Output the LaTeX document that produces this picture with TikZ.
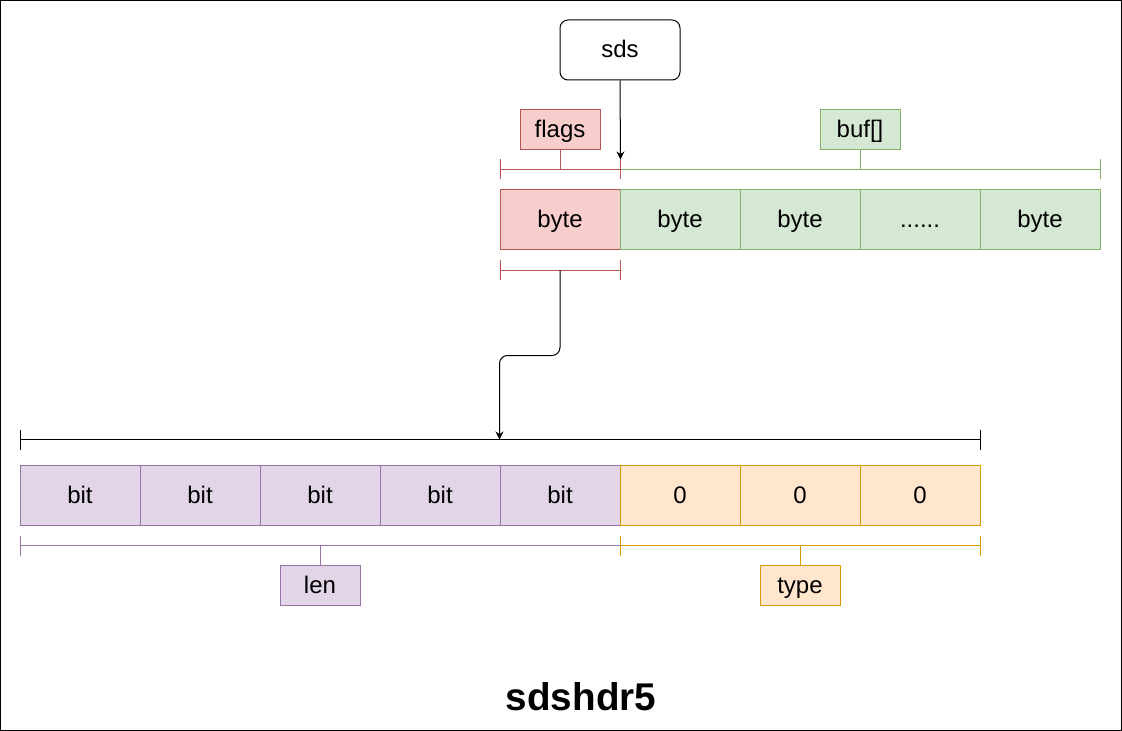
\documentclass[tikz,border=0pt]{standalone}
\usepackage{fontspec}
\setmainfont{Liberation Sans}
\usetikzlibrary{positioning,arrows.meta}

\definecolor{flagsfill}{HTML}{F8CECC}
\definecolor{flagsline}{HTML}{B85450}
\definecolor{buffill}{HTML}{D5E8D4}
\definecolor{bufline}{HTML}{82B366}
\definecolor{lenfill}{HTML}{E1D5E7}
\definecolor{lenline}{HTML}{9673A6}
\definecolor{typefill}{HTML}{FFE6CC}
\definecolor{typeline}{HTML}{D79B00}

\tikzstyle{cell} = [rectangle, minimum width=90pt, minimum height=45pt, text centered, text height=13.5pt, text depth=1.5pt, font=\fontsize{18}{22}\selectfont]
\tikzstyle{tag} = [rectangle, minimum width=60pt, minimum height=30pt, text centered, text height=13.5pt, text depth=1.5pt, font=\fontsize{18}{22}\selectfont]
\tikzstyle{flagcell} = [cell, draw=flagsline, fill=flagsfill]
\tikzstyle{bufcell} = [cell, draw=bufline, fill=buffill]
\tikzstyle{lencell} = [cell, draw=lenline, fill=lenfill]
\tikzstyle{typecell} = [cell, draw=typeline, fill=typefill]
\tikzstyle{span} = [{Bar[width=15pt]}-{Bar[width=15pt]}]
\tikzstyle{pointer} = [-{Stealth[length=6pt, width=6pt]}]

\begin{document}
\begin{tikzpicture}[x=0.75pt, y=-0.75pt, line width=0.75pt, node distance=90pt]
    %\draw[step=20,gray,very thin] (0,0) grid (1122,731);
    \useasboundingbox (0,0) rectangle (1122,731);
    \draw (0.5,0.5) rectangle (1121.5,730.5);

    \node (sds) at (620,50) [cell, draw, rounded corners=6pt] {sds};
    \node (flags) at (560,130) [tag, draw=flagsline, fill=flagsfill] {flags};
    \node (buf) at (860,130) [tag, draw=bufline, fill=buffill] {buf[]};

    \node (byte0) at (560,220) [flagcell] {byte};
    \node (byte1) [bufcell, right of=byte0] {byte};
    \node (byte2) [bufcell, right of=byte1] {byte};
    \node (byte3) [bufcell, right of=byte2] {......};
    \node (byte4) [bufcell, right of=byte3] {byte};

    \coordinate (flagsbar) at ([yshift=15pt]byte0.north);
    \coordinate (bufbar) at ([yshift=15pt]byte1.north west -| buf);
    \coordinate (bufhead) at ([yshift=22.5pt]byte0.north east);
    \coordinate (flagsout) at ([yshift=-15pt]byte0.south);

    \draw [span, draw=bufline] ([yshift=15pt]byte1.north west) -- ([yshift=15pt]byte4.north east);
    \draw [span, draw=flagsline] ([yshift=15pt]byte0.north west) -- ([yshift=15pt]byte0.north east);
    \draw [span, draw=flagsline] ([yshift=-15pt]byte0.south west) -- ([yshift=-15pt]byte0.south east);
    \draw [draw=flagsline] (flags.south) -- (flagsbar);
    \draw [draw=bufline] (buf.south) -- (bufbar);
    \draw [pointer] (sds.south) -- (bufhead);

    \node (bit0) at (80,495) [lencell] {bit};
    \node (bit1) [lencell, right of=bit0] {bit};
    \node (bit2) [lencell, right of=bit1] {bit};
    \node (bit3) [lencell, right of=bit2] {bit};
    \node (bit4) [lencell, right of=bit3] {bit};
    \node (type0) [typecell, right of=bit4] {0};
    \node (type1) [typecell, right of=type0] {0};
    \node (type2) [typecell, right of=type1] {0};

    \node (len) at (320,585) [tag, draw=lenline, fill=lenfill] {len};
    \node (type) at (800,585) [tag, draw=typeline, fill=typefill] {type};

    \coordinate (bitsin) at ([yshift=18.75pt]bit4.north west);
    \coordinate (lenbar) at ([yshift=-15pt]bit0.south west -| len);
    \coordinate (typebar) at ([yshift=-15pt]type0.south west -| type);

    \draw [span] ([yshift=18.75pt]bit0.north west) -- ([yshift=18.75pt]type2.north east);
    \draw [span, draw=lenline] ([yshift=-15pt]bit0.south west) -- ([yshift=-15pt]bit4.south east);
    \draw [span, draw=typeline] ([yshift=-15pt]type0.south west) -- ([yshift=-15pt]type2.south east);
    \draw [draw=lenline] (len.north) -- (lenbar);
    \draw [draw=typeline] (type.north) -- (typebar);
    \draw [pointer, rounded corners=6pt] (flagsout) -- ++(0,85) -| (bitsin);

    \node (title) at (581,697) [font=\fontsize{29}{34}\selectfont\bfseries] {sdshdr5};
\end{tikzpicture}
\end{document}
